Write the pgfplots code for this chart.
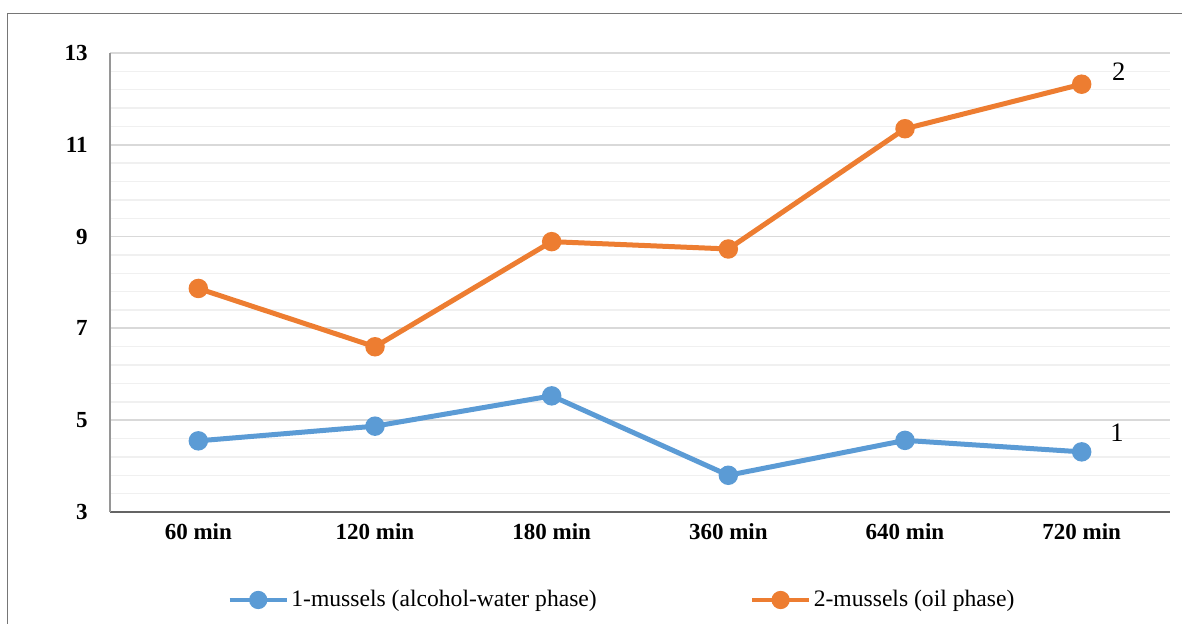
\documentclass[border=0pt]{standalone}
\usepackage{fontspec}
\setmainfont{Liberation Serif}
\usepackage{pgfplots}
\usepackage{pgfplotstable}
\pgfplotsset{compat=1.18}

\definecolor{seriesA}{RGB}{91,155,213}
\definecolor{seriesB}{RGB}{237,125,49}
\definecolor{majgrid}{RGB}{217,217,217}
\definecolor{mingrid}{RGB}{240,240,240}
\definecolor{framegray}{RGB}{118,118,118}
\definecolor{xaxisgray}{RGB}{100,100,100}
\definecolor{yaxisgray}{RGB}{150,150,150}

% extraction time index, alcohol-water phase, oil phase
\pgfplotstableread{
idx alcwater oil
0 4.55 7.87
1 4.87 6.60
2 5.53 8.89
3 3.80 8.73
4 4.56 11.35
5 4.31 12.32
}\datatable

\begin{document}
\begin{tikzpicture}[x=1pt,y=1pt]
\begin{axis}[
  scale only axis, width=530pt, height=229.5pt,
  xmin=-0.5, xmax=5.5,
  ymin=3, ymax=13,
  xtick={0,...,5},
  xticklabels={60 min,120 min,180 min,360 min,640 min,720 min},
  ytick={3,5,...,13},
  minor y tick num=4,
  ymajorgrids, yminorgrids,
  major grid style={majgrid, line width=0.9pt},
  minor grid style={mingrid, line width=0.7pt},
  major tick length=0pt, minor tick length=0pt,
  axis x line*=bottom, axis y line*=left,
  x axis line style={xaxisgray, line width=0.7pt, -},
  y axis line style={yaxisgray, line width=0.6pt, -},
  /pgf/number format/assume math mode=true,
  tick label style={font=\fontsize{11.5}{13}\selectfont\bfseries},
  yticklabel style={anchor=east, inner sep=0pt, xshift=-11pt},
  xticklabel style={anchor=north, inner sep=0pt, yshift=-5.5pt},
  legend columns=2,
  legend cell align=left,
  legend style={at={(0.1104,-0.1917)}, anchor=west, draw=none, fill=none,
    inner sep=0pt, font=\fontsize{11.8}{14}\selectfont,
    nodes={inner xsep=1.2pt, inner ysep=0pt}},
  legend image code/.code={
    \draw[line width=2.3pt] (0pt,0pt) -- (28.5pt,0pt);
    \fill (14.25pt,0pt) circle (3.3pt);
  },
  clip=false,
]
\addplot[seriesA, line width=2.5pt, mark=*, mark size=3.6pt]
  table[x=idx, y=alcwater] {\datatable};
\addlegendentry{\makebox[228pt][l]{1-mussels (alcohol-water phase)}}
\addplot[seriesB, line width=2.5pt, mark=*, mark size=3.6pt]
  table[x=idx, y=oil] {\datatable};
\addlegendentry{2-mussels (oil phase)}

\node[font=\fontsize{13.3}{15}\selectfont] at (axis cs:5.21,12.59) {2};
\node[font=\fontsize{13.3}{15}\selectfont] at (axis cs:5.20,4.72) {1};
\coordinate (O) at (rel axis cs:0,0);
\end{axis}
% page area and the partial frame around the chart
\path[use as bounding box] (O) ++(-55,-56) rectangle ++(591,312);
\draw[framegray, line width=0.6pt] (O) ++(-51.4,-56) -- ++(0,305.4) -- ++(587.4,0);
\end{tikzpicture}
\end{document}
